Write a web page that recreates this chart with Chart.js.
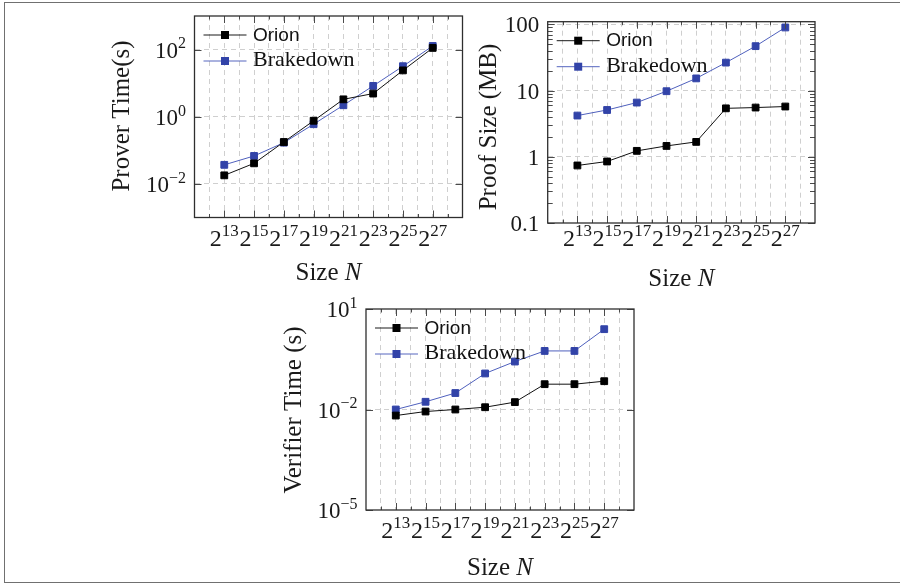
<!DOCTYPE html>
<html lang="en">
  <head>
    <meta charset="UTF-8" />
    <meta name="viewport" content="width=device-width, initial-scale=1.0" />
    <script src="https://cdn.jsdelivr.net/npm/chart.js@4.4.0/dist/chart.umd.min.js"></script>
    <title>Orion vs Brakedown</title>
    <style>
      body { margin: 0; background: #fff; }
      #frame {
        position: absolute; left: 4px; top: 2px; width: 900px; height: 581px;
        box-sizing: border-box; border: 1.5px solid #707070;
      }
      canvas { position: absolute; }
    </style>
  </head>
  <body>
    <div id="frame"></div>
    <canvas id="prover" width="380" height="290" style="left:90px;top:4px"></canvas>
    <canvas id="proof" width="360" height="290" style="left:470px;top:4px"></canvas>
    <canvas id="verifier" width="380" height="286" style="left:270px;top:295px"></canvas>
    <script>
      // sizes are 2^13 ... 2^27, x is the exponent
      const exponents = [13, 15, 17, 19, 21, 23, 25, 27];
      const seriesNames = ["Orion", "Brakedown"];

      const proverOrion = [0.018, 0.041, 0.177, 0.76, 3.3, 4.9, 24, 112];
      const proverBrakedown = [0.037, 0.068, 0.169, 0.6, 2.2, 8.3, 32, 128];

      const proofOrion = [0.74, 0.85, 1.23, 1.46, 1.68, 5.4, 5.55, 5.75];
      const proofBrakedown = [4.2, 5.1, 6.6, 9.8, 15.3, 26.5, 47, 90];

      const verifierOrion = [0.0066, 0.0087, 0.01, 0.0117, 0.0166, 0.057, 0.057, 0.07];
      const verifierBrakedown = [0.01, 0.017, 0.031, 0.119, 0.27, 0.56, 0.56, 2.5];

      // y tick labels: value, base text, exponent
      const proverTicks = [[1e-2, "10", "\u22122"], [1, "10", "0"], [1e2, "10", "2"]];
      const proofTicks = [[0.1, "0.1", ""], [1, "1", ""], [10, "10", ""], [100, "100", ""]];
      const verifierTicks = [[1e-5, "10", "\u22125"], [1e-2, "10", "\u22122"], [10, "10", "1"]];

      const BLUE = "#3243a8";
      const SERIF = '"Liberation Serif", "Times New Roman", serif';
      const SANS = '"Liberation Sans", Arial, sans-serif';

      function supText(ctx, x, y, base, sup, size, align) {
        ctx.font = size + "px " + SERIF;
        const bw = ctx.measureText(base).width;
        const ss = Math.round(size * 0.7);
        ctx.font = ss + "px " + SERIF;
        const sw = sup ? ctx.measureText(sup).width : 0;
        let x0 = x;
        if (align === "right") x0 = x - bw - sw;
        if (align === "center") x0 = x - (bw + sw) / 2;
        ctx.textAlign = "left";
        ctx.textBaseline = "alphabetic";
        ctx.font = size + "px " + SERIF;
        ctx.fillText(base, x0, y);
        if (sup) {
          ctx.font = ss + "px " + SERIF;
          ctx.fillText(sup, x0 + bw, y - size * 0.4);
        }
      }

      // frame, inward ticks, labels and legend drawn on top of the plot
      function decor(spec) {
        return {
          id: "decor",
          afterDraw(chart) {
            const ctx = chart.ctx;
            const a = chart.chartArea;
            const xs = chart.scales.x;
            const ys = chart.scales.y;
            const ox = spec.canvas[0], oy = spec.canvas[1];
            ctx.save();

            // tick marks on all four sides
            ctx.strokeStyle = "#4a4a4a";
            ctx.lineWidth = 1;
            ctx.beginPath();
            for (let e = 12; e <= 28; e++) {
              const px = Math.round(xs.getPixelForValue(e)) + 0.5;
              const len = e % 2 ? 7 : 3.5;
              ctx.moveTo(px, a.bottom); ctx.lineTo(px, a.bottom - len);
              ctx.moveTo(px, a.top); ctx.lineTo(px, a.top + len);
            }
            spec.ticks.forEach((t) => {
              const py = Math.round(ys.getPixelForValue(t[0])) + 0.5;
              ctx.moveTo(a.left, py); ctx.lineTo(a.left + 7, py);
              ctx.moveTo(a.right, py); ctx.lineTo(a.right - 7, py);
            });
            if (spec.minorY) {
              for (let d = ys.min; d < ys.max; d *= 10) {
                for (let k = 2; k <= 9; k++) {
                  const v = d * k;
                  if (v > ys.max) break;
                  const py = Math.round(ys.getPixelForValue(v)) + 0.5;
                  ctx.moveTo(a.left, py); ctx.lineTo(a.left + 5, py);
                  ctx.moveTo(a.right, py); ctx.lineTo(a.right - 5, py);
                }
              }
            }
            ctx.stroke();

            // axis box
            ctx.strokeStyle = "#2e2e2e";
            ctx.lineWidth = 1.3;
            ctx.strokeRect(a.left, a.top, a.right - a.left, a.bottom - a.top);

            // tick labels
            ctx.fillStyle = "#1a1a1a";
            exponents.forEach((e) => {
              supText(ctx, xs.getPixelForValue(e), spec.xTickBase - oy, "2", String(e), 24, "center");
            });
            spec.ticks.forEach((t) => {
              supText(ctx, a.left - 8.5, ys.getPixelForValue(t[0]) + 8, t[1], t[2], 23, "right");
            });

            // axis titles
            ctx.font = "25px " + SERIF;
            const w1 = ctx.measureText("Size ").width;
            ctx.font = "italic 25px " + SERIF;
            const w2 = ctx.measureText("N").width;
            const cx = (a.left + a.right) / 2 - (w1 + w2) / 2;
            ctx.textAlign = "left";
            ctx.font = "25px " + SERIF;
            ctx.fillText("Size ", cx, spec.xTitleBase - oy);
            ctx.font = "italic 25px " + SERIF;
            ctx.fillText("N", cx + w1, spec.xTitleBase - oy);

            ctx.save();
            ctx.translate(spec.yTitle[0] - ox, spec.yTitle[1] - oy);
            ctx.rotate(-Math.PI / 2);
            ctx.font = "25px " + SERIF;
            ctx.textAlign = "center";
            ctx.textBaseline = "middle";
            ctx.fillText(spec.yTitleText, 0, 0);
            ctx.restore();

            // legend
            const rows = [
              { name: seriesNames[0], color: "#000", line: "#1a1a1a", font: "19px " + SANS, dy: 19, base: 5.7 },
              { name: seriesNames[1], color: BLUE, line: "#5666bf", font: "22px " + SERIF, dy: 45, base: 5 },
            ];
            rows.forEach((r) => {
              const y = a.top + r.dy;
              ctx.strokeStyle = r.line;
              ctx.lineWidth = 1;
              ctx.beginPath();
              ctx.moveTo(a.left + 9, y); ctx.lineTo(a.left + 52, y);
              ctx.stroke();
              ctx.fillStyle = r.color;
              ctx.fillRect(a.left + 30.5 - 4, y - 4, 8, 8);
              ctx.fillStyle = "#111";
              ctx.font = r.font;
              ctx.textAlign = "left";
              ctx.textBaseline = "alphabetic";
              ctx.fillText(r.name, a.left + 58.5, y + r.base);
            });
            ctx.restore();
          },
        };
      }

      function series(label, values, color, lineColor) {
        return {
          label: label,
          data: exponents.map((e, i) => ({ x: e, y: values[i] })),
          borderColor: lineColor,
          backgroundColor: color,
          borderWidth: 1,
          pointStyle: "rect",
          pointRadius: 4.8,
          pointBorderWidth: 1,
          pointBorderColor: color,
          pointBackgroundColor: color,
          tension: 0,
        };
      }

      function drawPanel(id, spec) {
        const cv = document.getElementById(id);
        const ox = spec.canvas[0], oy = spec.canvas[1];
        const gridVals = spec.grid;
        new Chart(cv, {
          type: "line",
          data: {
            datasets: [
              series(seriesNames[0], spec.orion, "#000", "#111"),
              series(seriesNames[1], spec.brakedown, BLUE, "#4f60bd"),
            ],
          },
          options: {
            responsive: false,
            animation: false,
            layout: {
              padding: {
                left: spec.area[0] - ox,
                top: spec.area[1] - oy,
                right: cv.width - (spec.area[2] - ox),
                bottom: cv.height - (spec.area[3] - oy),
              },
            },
            plugins: { legend: { display: false }, tooltip: { enabled: false } },
            scales: {
              x: {
                type: "linear",
                min: 11,
                max: 29,
                ticks: { display: false, stepSize: 1 },
                grid: {
                  drawTicks: false,
                  lineWidth: 1,
                  color: (c) => (c.tick && c.tick.value > 11 && c.tick.value < 29 ? "#cfcfcf" : "rgba(0,0,0,0)"),
                },
                border: { display: false, dash: [5, 4] },
              },
              y: {
                type: "logarithmic",
                min: spec.yMin,
                max: spec.yMax,
                afterBuildTicks: (s) => {
                  s.ticks = spec.ticks.map((t) => ({ value: t[0] }));
                },
                ticks: { display: false },
                grid: {
                  drawTicks: false,
                  lineWidth: 1,
                  color: (c) => (c.tick && gridVals.includes(c.tick.value) ? "#cfcfcf" : "rgba(0,0,0,0)"),
                },
                border: { display: false, dash: [5, 4] },
              },
            },
          },
          plugins: [decor(spec)],
        });
      }

      drawPanel("prover", {
        canvas: [90, 4],
        area: [194.5, 16, 462.5, 217.5],
        yMin: 1e-3,
        yMax: 1e3,
        orion: proverOrion,
        brakedown: proverBrakedown,
        ticks: proverTicks,
        grid: [1e-2, 1, 1e2],
        xTickBase: 245.5,
        xTitleBase: 280,
        yTitle: [122, 116],
        yTitleText: "Prover Time(s)",
      });

      drawPanel("proof", {
        canvas: [470, 4],
        area: [547.7, 21.7, 815, 223],
        yMin: 0.1,
        yMax: 110,
        orion: proofOrion,
        brakedown: proofBrakedown,
        ticks: proofTicks,
        grid: [1, 10, 100],
        minorY: true,
        xTickBase: 245.5,
        xTitleBase: 285.5,
        yTitle: [489, 127],
        yTitleText: "Proof Size (MB)",
      });

      drawPanel("verifier", {
        canvas: [270, 295],
        area: [366, 309, 634, 510],
        yMin: 1e-5,
        yMax: 10,
        orion: verifierOrion,
        brakedown: verifierBrakedown,
        ticks: verifierTicks,
        grid: [1e-2],
        xTickBase: 538,
        xTitleBase: 575,
        yTitle: [294, 410],
        yTitleText: "Verifier Time (s)",
      });
    </script>
  </body>
</html>
